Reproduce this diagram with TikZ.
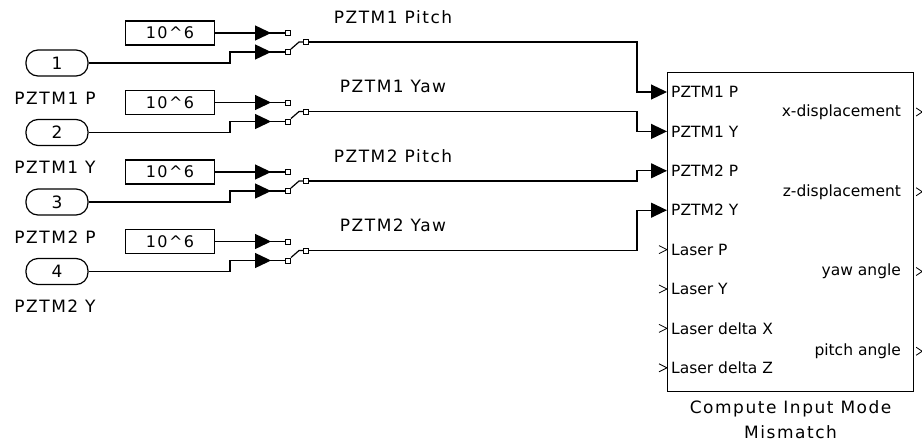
\documentclass[tikz,border=0pt]{standalone}
\usepackage{fontspec}
\setmainfont{DejaVu Sans}
\newfontfamily\slfont[LetterSpace=9]{DejaVu Sans}
\usetikzlibrary{arrows.meta,positioning}
\tikzset{
  wire/.style={line width=1.2pt},
  sig/.style={wire, -{Triangle[length=16pt,width=15pt]}},
  inport/.style={draw, wire, rounded corners=12pt, minimum width=62pt,
    minimum height=26pt, inner sep=0pt, font=\slfont\fontsize{17}{20}\selectfont},
  gain/.style={draw, wire, minimum width=89pt, minimum height=24pt,
    inner sep=0pt, font=\slfont\fontsize{16}{19}\selectfont},
  term/.style={draw, line width=0.9pt, minimum size=5pt, inner sep=0pt, fill=white},
  lbl/.style={inner sep=0pt, font=\slfont\fontsize{17}{25}\selectfont},
  portlbl/.style={inner sep=0pt, font=\fontsize{15.5}{18}\selectfont},
  subsys/.style={draw, wire, minimum width=246pt, minimum height=319pt, inner sep=0pt}
}
\begin{document}
\begin{tikzpicture}[x=1pt,y=-1pt]
  \useasboundingbox (0,0) rectangle (922,445);
  \node[subsys, anchor=north west] (cim) at (667,72) {};
  \foreach \k in {1,...,8}{
    \pgfmathsetmacro\py{-20-39.4*(\k-1)}
    \coordinate (p\k) at ([yshift=\py pt]cim.north west);
  }
  \foreach \k/\nm/\sig in {1/PZTM1 P/PZTM1 Pitch,2/PZTM1 Y/PZTM1 Yaw,
                           3/PZTM2 P/PZTM2 Pitch,4/PZTM2 Y/PZTM2 Yaw}{
    \pgfmathsetmacro\gy{33+69.5*(\k-1)}
    \node[gain] (g\k) at (170,\gy) {10\textasciicircum6};
    \node[inport] (in\k) at (57,\gy+30) {\k};
    \node[lbl] (n\k) at (55,\gy+65) {\nm};
    \node[term] (ta\k) at (288,\gy) {};
    \node[term] (tb\k) at (288,\gy+19) {};
    \node[term] (to\k) at (306,\gy+9) {};
    \node[lbl] (s\k) at (393,\gy-16) {\sig};
    \draw[wire] (g\k.east) -- (ta\k.west);
    \draw[sig] (g\k.east) -- ([xshift=-14pt]ta\k.west);
    \draw[wire] (in\k.east) -| ([xshift=-55pt]tb\k.west) -- (tb\k.west);
    \draw[sig] ([xshift=-55pt]tb\k.west) -- ([xshift=-14pt]tb\k.west);
    \draw[wire] (tb\k.north east) -- ([xshift=-4pt]to\k.west) -- (to\k.west);
    \draw[sig] (to\k.east) -| ([xshift=-30pt]p\k) -- (p\k);
  }
  \foreach \k/\t in {1/PZTM1 P,2/PZTM1 Y,3/PZTM2 P,4/PZTM2 Y,
                     5/Laser P,6/Laser Y,7/Laser delta X,8/Laser delta Z}
    \node[portlbl, anchor=west] (l\k) at ([xshift=4pt]p\k) {\t};
  \foreach \k in {5,...,8}
    \draw[line width=0.8pt] ([xshift=-8pt,yshift=4pt]p\k) -- (p\k)
      -- ([xshift=-8pt,yshift=-4pt]p\k);
  \foreach \j/\t in {1/x-displacement,2/z-displacement,3/yaw angle,4/pitch angle}{
    \pgfmathsetmacro\qy{-40-79.75*(\j-1)}
    \coordinate (q\j) at ([yshift=\qy pt]cim.north east);
    \node[portlbl, anchor=east] (r\j) at ([xshift=-13pt]q\j) {\t};
    \draw[line width=0.8pt] ([xshift=2pt,yshift=4pt]q\j) -- ([xshift=8pt]q\j)
      -- ([xshift=2pt,yshift=-4pt]q\j);
  }
  \node[lbl, align=center, below=8pt of cim] (cap) {Compute Input Mode\\Mismatch};
\end{tikzpicture}
\end{document}
